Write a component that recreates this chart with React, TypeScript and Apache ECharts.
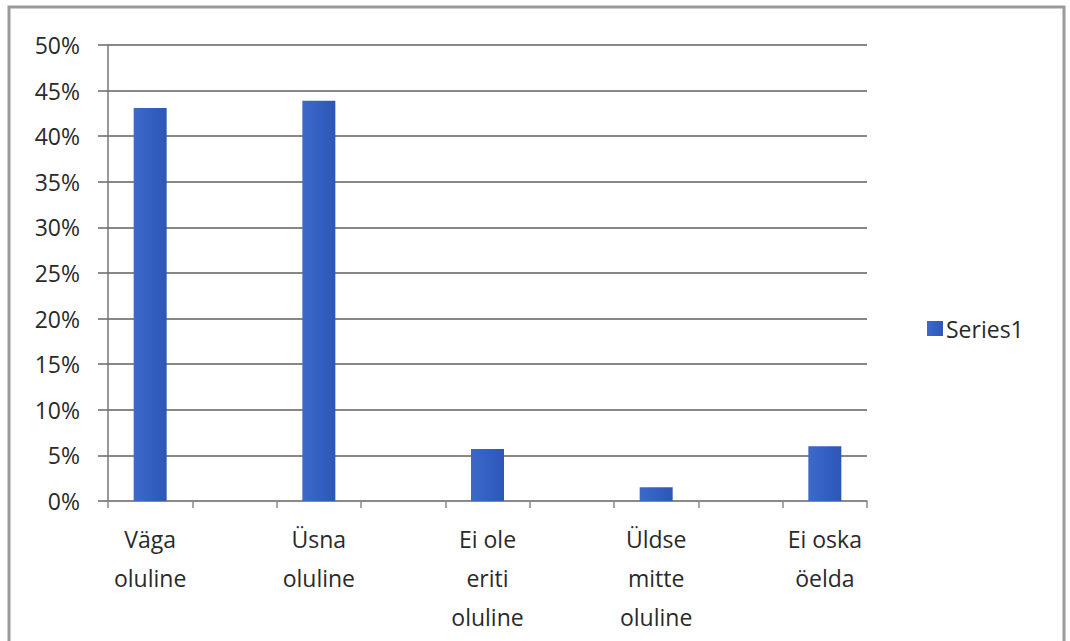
import React, { useEffect, useRef } from "react";
import * as echarts from "echarts";

const categories = [
  "Väga\noluline",
  " ",
  "Üsna\noluline",
  "  ",
  "Ei ole\neriti\noluline",
  "   ",
  "Üldse\nmitte\noluline",
  "    ",
  "Ei oska\nöelda",
];
const seriesName = "Series1";
const values: (number | string)[] = [43.1, "-", 43.9, "-", 5.7, "-", 1.5, "-", 6.0];
const yMin = 0;
const yMax = 50;
const yStep = 5;

const FONT = "'Open Sans', 'Noto Sans', sans-serif";

export default function App() {
  const ref = useRef<HTMLDivElement>(null);
  useEffect(() => {
    if (!ref.current) return;
    const chart = echarts.init(ref.current, null, { renderer: "svg" });
    const barColor = new echarts.graphic.LinearGradient(0, 0, 1, 0, [
      { offset: 0, color: "#3d69c9" },
      { offset: 0.5, color: "#3360c4" },
      { offset: 1, color: "#2d57b6" },
    ]);
    chart.setOption({
      animation: false,
      backgroundColor: "#ffffff",
      graphic: [
        {
          type: "rect",
          shape: { x: 9, y: 7, width: 1055, height: 660 },
          style: { fill: "none", stroke: "#9a9a9a", lineWidth: 3 },
          silent: true,
        },
      ],
      legend: {
        left: 922,
        top: 312,
        orient: "vertical",
        icon: "rect",
        itemWidth: 16,
        itemHeight: 15,
        itemGap: 6,
        textStyle: { fontFamily: FONT, fontSize: 23, color: "#2a2a2a", padding: [0, 0, 0, -2] },
        data: [seriesName],
      },
      grid: { left: 108, right: 203, top: 45, bottom: 140, containLabel: false },
      xAxis: {
        type: "category",
        data: categories,
        axisLine: { show: true, lineStyle: { color: "#8a8a8a", width: 1.5 } },
        axisTick: { show: true, length: 7, lineStyle: { color: "#8a8a8a", width: 1.5 } },
        axisLabel: {
          interval: 0,
          margin: 18,
          fontFamily: FONT,
          fontSize: 23,
          lineHeight: 39,
          color: "#2a2a2a",
        },
      },
      yAxis: {
        type: "value",
        min: yMin,
        max: yMax,
        interval: yStep,
        axisLine: { show: true, lineStyle: { color: "#777", width: 1.5 } },
        axisTick: { show: true, length: 10, lineStyle: { color: "#666", width: 1.5 } },
        splitLine: { show: true, lineStyle: { color: "#5f5f5f", width: 1.5 } },
        axisLabel: {
          margin: 28,
          formatter: "{value}%",
          fontFamily: FONT,
          fontSize: 23,
          color: "#2a2a2a",
        },
      },
      series: [
        {
          name: seriesName,
          type: "bar",
          data: values,
          barWidth: 33,
          itemStyle: { color: barColor },
        },
      ],
    });
    return () => chart.dispose();
  }, []);
  return <div ref={ref} style={{ width: 1070, height: 641, position: "absolute", left: 0, top: 0 }} />;
}
